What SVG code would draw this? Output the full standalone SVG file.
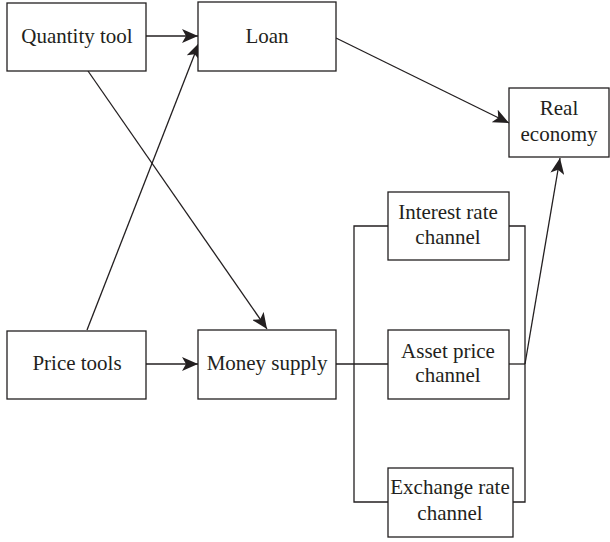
<svg xmlns="http://www.w3.org/2000/svg" width="610" height="542" viewBox="0 0 610 542">
<style>
.box{fill:#fff;stroke:#231f20;stroke-width:1.3}
.lbl{font-family:"Liberation Serif",serif;font-size:21px;fill:#231f20;text-anchor:middle}
.ln{fill:none;stroke:#231f20;stroke-width:1.3}
</style>
<defs>
<marker id="ah" viewBox="0 0 16 14" refX="16" refY="7" markerWidth="16" markerHeight="14" markerUnits="userSpaceOnUse" orient="auto">
<path d="M0,0 L16,7 L0,14 L4,7 Z" fill="#231f20"/>
</marker>
</defs>
<rect width="610" height="542" fill="#fff"/>
<g id="connectors">
<line class="ln" x1="146" y1="36" x2="198" y2="36" marker-end="url(#ah)"/>
<line class="ln" x1="87" y1="330" x2="199" y2="43" marker-end="url(#ah)"/>
<line class="ln" x1="88" y1="71" x2="267" y2="329" marker-end="url(#ah)"/>
<line class="ln" x1="146" y1="364" x2="198" y2="364" marker-end="url(#ah)"/>
<line class="ln" x1="336" y1="38" x2="509" y2="123" marker-end="url(#ah)"/>
<line class="ln" x1="336" y1="364" x2="388" y2="364"/>
<polyline class="ln" points="388,226 354,226 354,502 388,502"/>
<polyline class="ln" points="509,226 525,226 525,502 513,502"/>
<line class="ln" x1="509" y1="364" x2="525" y2="364"/>
<line class="ln" x1="525" y1="364" x2="560" y2="158" marker-end="url(#ah)"/>
</g>
<g id="quantity-tool"><rect class="box" x="7" y="3" width="139" height="68"/><text class="lbl" x="77" y="43">Quantity tool</text></g>
<g id="loan"><rect class="box" x="198" y="2" width="138" height="69"/><text class="lbl" x="267" y="43">Loan</text></g>
<g id="real-economy"><rect class="box" x="509" y="88" width="100" height="69"/><text class="lbl" x="559" y="115">Real</text><text class="lbl" x="559" y="141">economy</text></g>
<g id="price-tools"><rect class="box" x="7" y="331" width="139" height="68"/><text class="lbl" x="77" y="370">Price tools</text></g>
<g id="money-supply"><rect class="box" x="198" y="330" width="138" height="69"/><text class="lbl" x="267" y="370">Money supply</text></g>
<g id="interest-rate-channel"><rect class="box" x="388" y="192" width="121" height="68"/><text class="lbl" x="448" y="219">Interest rate</text><text class="lbl" x="448" y="244">channel</text></g>
<g id="asset-price-channel"><rect class="box" x="388" y="330" width="121" height="69"/><text class="lbl" x="448" y="358">Asset price</text><text class="lbl" x="448" y="382">channel</text></g>
<g id="exchange-rate-channel"><rect class="box" x="388" y="468" width="125" height="69"/><text class="lbl" x="450" y="494">Exchange rate</text><text class="lbl" x="450" y="520">channel</text></g>
</svg>
